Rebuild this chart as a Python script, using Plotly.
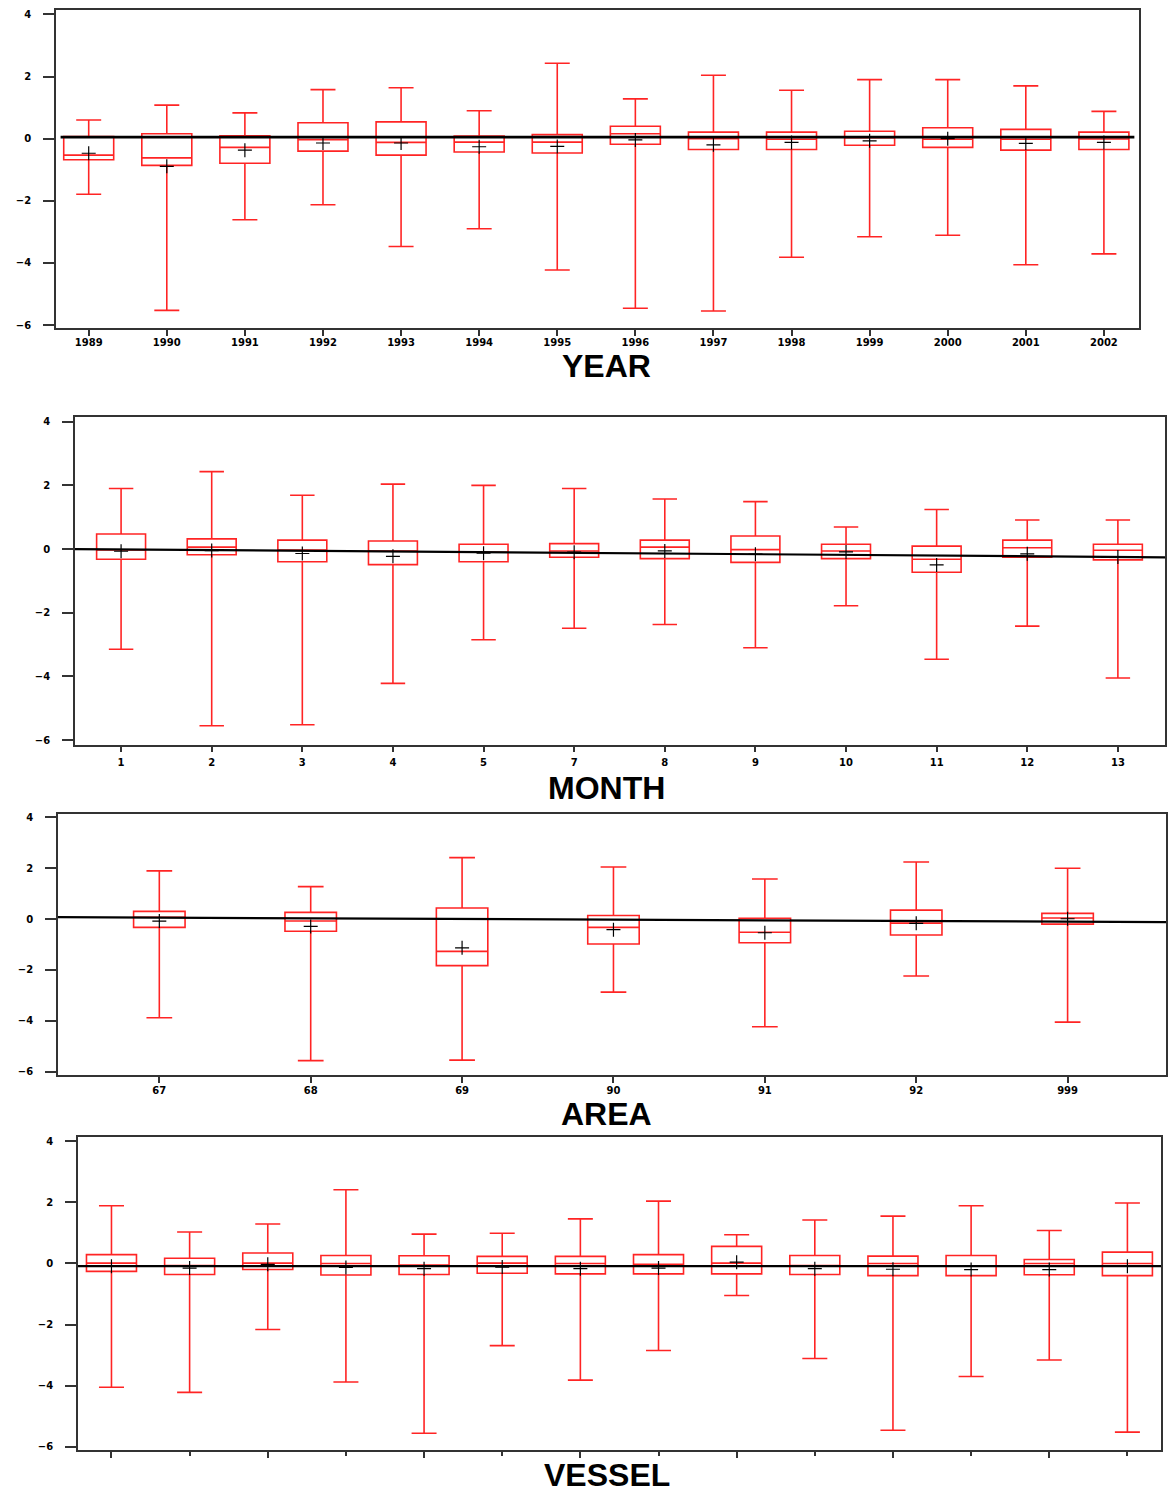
import plotly.graph_objects as go

# ---------------- data ----------------
year_labels = ["1989", "1990", "1991", "1992", "1993", "1994", "1995",
               "1996", "1997", "1998", "1999", "2000", "2001", "2002"]
year_max = [0.60, 1.08, 0.83, 1.58, 1.64, 0.90, 2.43, 1.28, 2.04, 1.56, 1.90, 1.90, 1.70, 0.88]
year_q3 = [0.07, 0.16, 0.09, 0.51, 0.54, 0.08, 0.13, 0.40, 0.21, 0.21, 0.24, 0.35, 0.30, 0.21]
year_med = [-0.53, -0.62, -0.28, -0.03, -0.12, -0.11, -0.11, 0.16, 0.00, -0.02, 0.03, -0.02, -0.02, -0.01]
year_q1 = [-0.68, -0.86, -0.79, -0.40, -0.53, -0.43, -0.46, -0.18, -0.35, -0.35, -0.21, -0.28, -0.37, -0.35]
year_min = [-1.79, -5.53, -2.61, -2.13, -3.47, -2.90, -4.23, -5.46, -5.55, -3.82, -3.16, -3.11, -4.06, -3.71]
year_mean = [-0.47, -0.89, -0.37, -0.14, -0.14, -0.26, -0.25, -0.04, -0.20, -0.12, -0.07, 0.00, -0.15, -0.12]
year_fit = [0.05, 0.05]

month_labels = ["1", "2", "3", "4", "5", "7", "8", "9", "10", "11", "12", "13"]
month_max = [1.90, 2.43, 1.69, 2.04, 2.00, 1.90, 1.57, 1.49, 0.69, 1.24, 0.91, 0.91]
month_q3 = [0.47, 0.32, 0.28, 0.25, 0.15, 0.17, 0.28, 0.41, 0.15, 0.09, 0.28, 0.15]
month_med = [-0.03, 0.06, -0.03, -0.06, -0.10, -0.06, 0.06, -0.02, -0.06, -0.32, 0.04, -0.04]
month_q1 = [-0.32, -0.18, -0.40, -0.49, -0.40, -0.26, -0.30, -0.42, -0.30, -0.73, -0.26, -0.34]
month_min = [-3.15, -5.55, -5.52, -4.22, -2.85, -2.49, -2.37, -3.10, -1.78, -3.46, -2.42, -4.05]
month_mean = [-0.07, -0.05, -0.14, -0.23, -0.13, -0.10, -0.06, -0.16, -0.09, -0.50, -0.15, -0.25]
month_fit = [0.00, -0.26]

area_labels = ["67", "68", "69", "90", "91", "92", "999"]
area_max = [1.89, 1.27, 2.41, 2.04, 1.57, 2.24, 1.99]
area_q3 = [0.30, 0.26, 0.43, 0.14, 0.03, 0.35, 0.22]
area_med = [0.07, -0.08, -1.27, -0.33, -0.52, -0.16, 0.04]
area_q1 = [-0.33, -0.48, -1.83, -0.98, -0.93, -0.63, -0.20]
area_min = [-3.88, -5.56, -5.54, -2.87, -4.23, -2.24, -4.05]
area_mean = [-0.08, -0.29, -1.13, -0.42, -0.54, -0.17, 0.01]
area_fit = [0.07, -0.12]

vessel_labels = [""] * 14
vessel_max = [1.89, 1.03, 1.29, 2.41, 0.96, 0.99, 1.46, 2.04, 0.94, 1.42, 1.55, 1.89, 1.08, 1.98]
vessel_q3 = [0.29, 0.17, 0.34, 0.26, 0.25, 0.23, 0.23, 0.29, 0.56, 0.26, 0.24, 0.26, 0.13, 0.37]
vessel_med = [0.01, -0.07, 0.01, 0.00, -0.05, 0.01, 0.00, -0.03, 0.01, -0.07, 0.00, -0.08, 0.00, 0.00]
vessel_q1 = [-0.26, -0.36, -0.20, -0.38, -0.36, -0.32, -0.34, -0.34, -0.34, -0.36, -0.40, -0.40, -0.37, -0.40]
vessel_min = [-4.05, -4.22, -2.16, -3.88, -5.56, -2.69, -3.82, -2.85, -1.05, -3.11, -5.46, -3.70, -3.16, -5.52]
vessel_mean = [-0.09, -0.15, -0.03, -0.13, -0.17, -0.12, -0.17, -0.15, 0.04, -0.17, -0.19, -0.20, -0.20, -0.09]
vessel_fit = [-0.09, -0.09]

y_ticks = [-6, -4, -2, 0, 2, 4]

# ---------------- layout geometry (pixels) ----------------
W, H = 1168, 1495
RED = "#ff2424"

panels = [
    dict(name="YEAR", labels=year_labels, mx=year_max, q3=year_q3, med=year_med, q1=year_q1,
         mn=year_min, mean=year_mean, fit=year_fit,
         box=(56, 1141, 8.4, 327), xr=[-0.42, 13.45], fitx=[-0.36, 13.39], yr=[-6.1, 4.13],
         bw=0.64, title_y=365, fitw=2.6, xlab=True, xstand=-2),
    dict(name="MONTH", labels=month_labels, mx=month_max, q3=month_q3, med=month_med, q1=month_q1,
         mn=month_min, mean=month_mean, fit=month_fit,
         box=(75, 1167, 415.7, 744.5), xr=[-0.51, 11.52], fitx=[-0.51, 11.52], yr=[-6.14, 4.16],
         bw=0.54, title_y=788, fitw=2.2, xlab=True, xstand=2),
    dict(name="AREA", labels=area_labels, mx=area_max, q3=area_q3, med=area_med, q1=area_q1,
         mn=area_min, mean=area_mean, fit=area_fit,
         box=(58, 1168, 814, 1076), xr=[-0.67, 6.65], fitx=[-0.67, 6.65], yr=[-6.13, 4.13],
         bw=0.34, title_y=1115, fitw=2.2, xlab=True, xstand=-1),
    dict(name="VESSEL", labels=vessel_labels, mx=vessel_max, q3=vessel_q3, med=vessel_med, q1=vessel_q1,
         mn=vessel_min, mean=vessel_mean, fit=vessel_fit,
         box=(78, 1163, 1138, 1452), xr=[-0.43, 13.43], fitx=[-0.43, 13.43], yr=[-6.11, 4.14],
         bw=0.64, title_y=1477, fitw=2.2, xlab=False, xstand=0),
]

fig = go.Figure()
layout = dict(width=W, height=H, margin=dict(l=0, r=0, t=0, b=0),
              paper_bgcolor="white", plot_bgcolor="white", showlegend=False,
              annotations=[])

tickfont = dict(family="DejaVu Sans", size=10, color="black", weight="bold")

for i, p in enumerate(panels, start=1):
    xa = "x" if i == 1 else f"x{i}"
    ya = "y" if i == 1 else f"y{i}"
    pos = list(range(len(p["labels"])))
    fig.add_trace(go.Box(
        x=pos, q1=p["q1"], median=p["med"], q3=p["q3"],
        lowerfence=p["mn"], upperfence=p["mx"],
        width=p["bw"], whiskerwidth=0.5, boxpoints=False,
        line=dict(color=RED, width=1.6), fillcolor="rgba(255,255,255,0)",
        xaxis=xa, yaxis=ya, hoverinfo="skip"))
    fig.add_trace(go.Scatter(
        x=p["fitx"], y=p["fit"], mode="lines",
        line=dict(color="black", width=p["fitw"]), xaxis=xa, yaxis=ya, hoverinfo="skip"))
    fig.add_trace(go.Scatter(
        x=pos, y=p["mean"], mode="markers",
        marker=dict(symbol="cross-thin", size=10, line=dict(color="black", width=1.2)),
        xaxis=xa, yaxis=ya, hoverinfo="skip"))

    x0, x1, top, bot = p["box"]
    xkey = "xaxis" if i == 1 else f"xaxis{i}"
    ykey = "yaxis" if i == 1 else f"yaxis{i}"
    xaxis = dict(domain=[x0 / W, x1 / W], anchor=ya, range=p["xr"],
                 showgrid=False, zeroline=False, showline=True, mirror=True,
                 linecolor="#333333", linewidth=1.5, ticks="outside", tickcolor="#333333",
                 ticklen=6, tickwidth=1.5, tickfont=tickfont, ticklabelstandoff=p["xstand"])
    if p["xlab"]:
        xaxis.update(tickmode="array", tickvals=pos, ticktext=p["labels"])
    else:
        xaxis.update(tickmode="array", tickvals=pos[::2], showticklabels=False,
                     minor=dict(tickmode="array", tickvals=pos[1::2], ticks="outside",
                                ticklen=4, tickwidth=1.5, tickcolor="#333333"))
    layout[xkey] = xaxis
    layout[ykey] = dict(domain=[1 - bot / H, 1 - top / H], anchor=xa, range=p["yr"],
                        showgrid=False, zeroline=False, showline=True, mirror=True,
                        linecolor="#333333", linewidth=1.5, ticks="outside", tickcolor="#333333",
                        ticklen=11, tickwidth=1.5, tickmode="array", tickvals=y_ticks,
                        tickfont=tickfont, ticklabelstandoff=10)
    layout["annotations"].append(dict(
        text=p["name"], xref="paper", yref="paper", x=608 / W, y=1 - p["title_y"] / H,
        xanchor="center", yanchor="middle", showarrow=False,
        font=dict(family="Liberation Sans", size=32, color="black", weight="bold")))

fig.update_layout(**layout)
fig.write_html("out.html", config={"displayModeBar": False},
               post_script="document.body.style.margin='0';document.body.style.padding='0';")
